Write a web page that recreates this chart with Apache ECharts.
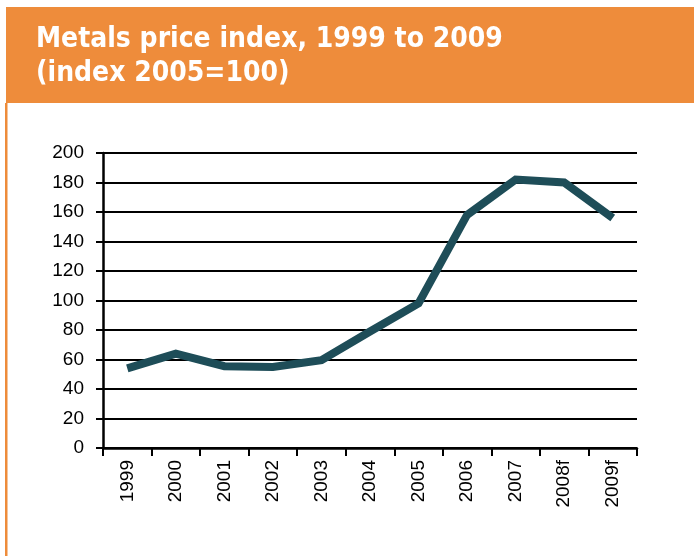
<!DOCTYPE html>
<html>
<head>
<meta charset="utf-8">
<script src="https://cdn.jsdelivr.net/npm/echarts@6/dist/echarts.min.js"></script>
<style>
  html, body { margin: 0; padding: 0; background: #fff; }
  #chart { width: 694px; height: 556px; }
</style>
</head>
<body>
<div id="chart"></div>
<script>
// values (index 2005=100)
const years = ["1999", "2000", "2001", "2002", "2003", "2004", "2005", "2006", "2007", "2008f", "2009f"];
const priceIndex = [54, 64, 55.5, 55, 59.5, 79, 98, 158, 182, 180, 156];
const yTicks = [0, 200, 20];  // min, max, step

const orange = "#ee8c3b";
const lineColor = "#1e4d58";

let myChart = echarts.init(document.getElementById("chart"));

let option = {
    animation: false,
    backgroundColor: "#fff",
    title: {
        text: "Metals price index, 1999 to 2009\n(index 2005=100)",
        left: 31,
        top: 18,
        textStyle: {
            color: "#fff",
            fontFamily: "DejaVu Sans Condensed",
            fontWeight: "bold",
            fontSize: 28,
            lineHeight: 34
        }
    },
    graphic: [
        {
            type: "rect",
            z: -1,
            shape: { x: 6, y: 7, width: 688, height: 96 },
            style: { fill: orange }
        },
        {
            type: "rect",
            z: -1,
            shape: { x: 5, y: 103, width: 2.5, height: 453 },
            style: { fill: orange }
        }
    ],
    grid: {
        left: 103,
        right: 57,
        top: 153,
        bottom: 108
    },
    xAxis: {
        type: "category",
        data: years,
        boundaryGap: true,
        axisLine: { lineStyle: { color: "#000", width: 2.5 } },
        axisTick: { show: true, length: 8, lineStyle: { color: "#000", width: 2 } },
        axisLabel: {
            rotate: 90,
            margin: 12,
            color: "#000",
            fontFamily: "Liberation Sans",
            fontSize: 19
        }
    },
    yAxis: {
        type: "value",
        min: yTicks[0],
        max: yTicks[1],
        interval: yTicks[2],
        axisLine: { show: true, lineStyle: { color: "#000", width: 2.5 } },
        axisTick: { show: true, length: 7, lineStyle: { color: "#000", width: 2 } },
        axisLabel: {
            margin: 19,
            color: "#000",
            fontFamily: "Liberation Sans",
            fontSize: 19
        },
        splitLine: { lineStyle: { color: "#000", width: 2 } }
    },
    series: [
        {
            name: "Metals price index",
            type: "line",
            data: priceIndex,
            showSymbol: false,
            symbol: "none",
            lineStyle: { color: lineColor, width: 8, join: "miter" },
            z: 5
        }
    ]
};

myChart.setOption(option);
</script>
</body>
</html>
